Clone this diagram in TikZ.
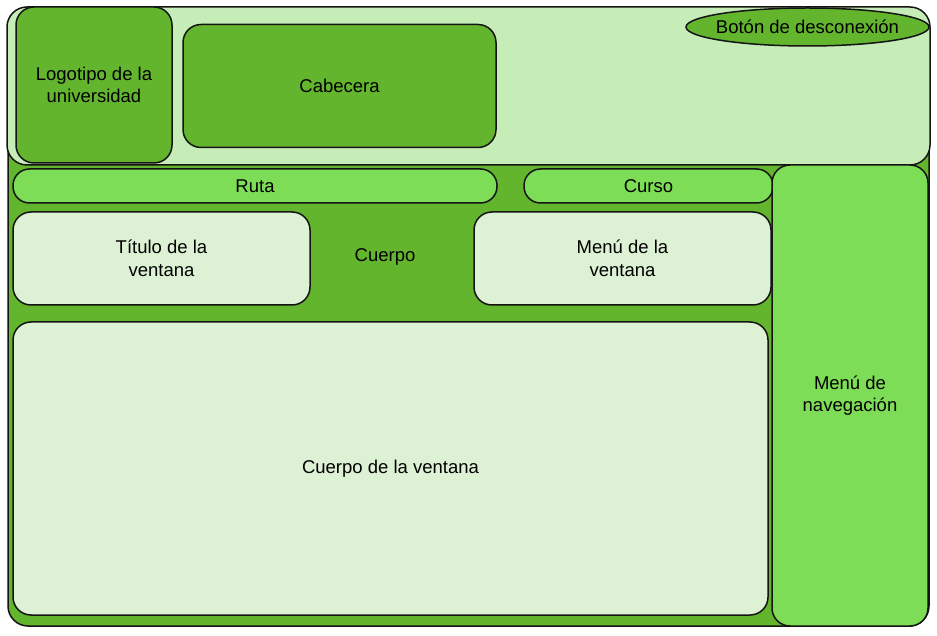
\documentclass[tikz,border=0pt]{standalone}
\usepackage{fontspec}
\setmainfont{Liberation Sans}
\usetikzlibrary{shapes.geometric}
\definecolor{hdr}{RGB}{198,237,184}
\definecolor{dkg}{RGB}{99,181,46}
\definecolor{brg}{RGB}{126,221,86}
\definecolor{pale}{RGB}{221,241,212}
\definecolor{edge}{RGB}{20,20,20}
\begin{document}
\begin{tikzpicture}[x=1pt,y=-1pt,
  box/.style={rectangle, draw=edge, line width=1.5pt, rounded corners=18pt, inner sep=0pt,
    align=center, font=\fontsize{18.5}{22.5}\selectfont},
  pill/.style={box, rounded corners=16.5pt},
  lbl/.style={inner sep=0pt, align=center, font=\fontsize{18.5}{22.5}\selectfont}]
\useasboundingbox (0,0) rectangle (937,636);
\node[box, fill=dkg, rounded corners=20pt, minimum width=921pt, minimum height=566pt] (body) at (468.5,343) {};
\node[box, fill=hdr, rounded corners=20pt, minimum width=923pt, minimum height=158pt] (header) at (468.5,86) {};
\node[box, fill=dkg, minimum width=156pt, minimum height=156pt] (logo) at (94,85) {Logotipo de la\\universidad};
\node[box, fill=dkg, minimum width=313pt, minimum height=123pt] (cab) at (339.5,86) {Cabecera};
\node[ellipse, draw=edge, line width=1.5pt, fill=dkg, inner sep=0pt, minimum width=243pt, minimum height=38pt] (boton) at (807.5,27) {};
\node[lbl] (botontxt) at (boton.center) {Botón de desconexión};
\node[pill, fill=brg, minimum width=484pt, minimum height=34pt] (ruta) at (255,186) {Ruta};
\node[pill, fill=brg, minimum width=249pt, minimum height=34pt] (curso) at (648.5,186) {Curso};
\node[box, fill=brg, minimum width=156pt, minimum height=461pt] (nav) at (850,395.5) {Menú de\\navegación};
\node[box, fill=pale, minimum width=297pt, minimum height=93pt] (titulo) at (161.5,258.5) {Título de la\\ventana};
\node[box, fill=pale, minimum width=297pt, minimum height=93pt] (menuv) at (622.5,258.5) {Menú de la\\ventana};
\node[lbl] (cuerpo) at (385,257) {Cuerpo};
\node[box, fill=pale, minimum width=755pt, minimum height=293pt] (cv) at (390.5,468.5) {Cuerpo de la ventana};
\end{tikzpicture}
\end{document}
